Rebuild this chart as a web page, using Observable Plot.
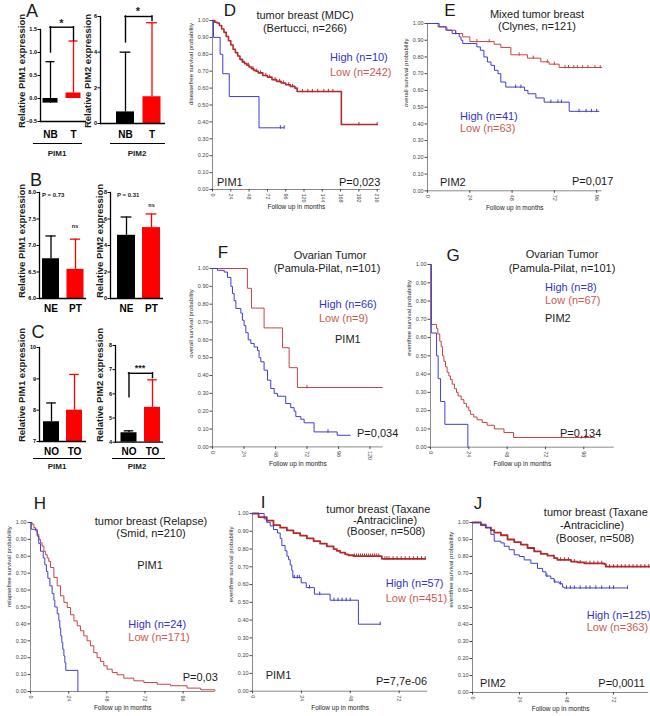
<!DOCTYPE html>
<html><head><meta charset="utf-8">
<script src="https://cdn.jsdelivr.net/npm/d3@7"></script>
<script src="https://cdn.jsdelivr.net/npm/@observablehq/plot@0.6"></script>
<style>
body{margin:0;background:#fff;}
#root{position:relative;width:650px;height:716px;overflow:hidden;background:#fff;font-family:"Liberation Sans",Arial,Helvetica,sans-serif;}
.t{position:absolute;white-space:nowrap;line-height:1;}
.u{position:absolute;height:1.4px;background:#000;}
</style></head><body><div id="root"></div>
<script>
// ---------------- DATA: bar panels ----------------
const catsA = ["NB", "T"], catsB = ["NE", "PT"], catsC = ["NO", "TO"];
const a1Mean = [-0.1, 0.12], a1Err = [0.8, 1.25];
const a2Mean = [0.65, 1.5],  a2Err = [4.0, 5.65];
const b1Mean = [6.75, 6.55], b1Err = [7.18, 7.12];
const b2Mean = [4.77, 5.35], b2Err = [6.15, 6.38];
const c1Mean = [7.63, 8.0],  c1Err = [8.23, 9.14];
const c2Mean = [4.39, 5.44], c2Err = [4.47, 6.58];
const a1Ticks = [-0.5, 0, 0.5, 1, 1.5], a2Ticks = [0, 2, 4, 6];
const b1Ticks = [6, 6.5, 7, 7.5, 8], b2Ticks = [0, 2, 4, 6, 8];
const c1Ticks = [7, 8, 9, 10], c2Ticks = [4, 5, 6, 7, 8];
const a1Bracket = [1.0, 1.55, 1.25], a2Bracket = [4.55, 6.0, 5.75], c2Bracket = [5.86, 6.85, 6.65];

// ---------------- DATA: Kaplan-Meier panels [month, survival] ----------------
const kmYTicks = [0, 0.1, 0.2, 0.3, 0.4, 0.5, 0.6, 0.7, 0.8, 0.9, 1.0];
const dHigh = [[0,1],[1.3,0.9],[10,0.8],[13.5,0.685],[22,0.55],[61,0.365],[94,0.365]];
const dLow = [[0,1],[3,0.99],[6,0.985],[9,0.97],[12,0.95],[15,0.93],[18,0.905],[21,0.88],[24,0.855],[27,0.83],[30,0.81],[33,0.79],[36,0.77],[39,0.755],[42,0.745],[45,0.735],[48,0.725],[51,0.715],[54,0.705],[57,0.7],[60,0.69],[66,0.675],[72,0.665],[78,0.65],[84,0.64],[90,0.63],[96,0.62],[102,0.61],[108,0.6],[111,0.58],[169,0.385],[216,0.385]];
const dHighCens = [89, 94];
const dLowCens = [40, 47, 53, 58, 63, 70, 75, 82, 88, 93, 100, 105, 118, 125, 131, 138, 146, 152, 158, 192, 216];
const eHigh = [[0,1],[6.6,0.98],[10.4,0.96],[14,0.94],[18,0.92],[19,0.9],[20,0.88],[28,0.86],[30,0.84],[32,0.8],[34,0.77],[36,0.75],[38,0.72],[40,0.7],[41.6,0.65],[44.4,0.62],[55,0.6],[57,0.58],[61.5,0.555],[66.2,0.53],[80.4,0.475],[97.4,0.475]];
const eLow = [[0,1],[6,0.98],[11,0.96],[16,0.94],[20,0.92],[24,0.892],[37.8,0.876],[41.6,0.857],[47.3,0.813],[56.7,0.793],[64.3,0.771],[69,0.757],[74.7,0.737],[99,0.737]];
const eHighCens = [16, 50, 53, 70, 74, 76, 86, 90, 93, 96];
const eLowCens = [28, 35, 52, 60, 68, 72, 78, 80, 83, 85, 88, 91, 95, 98];
const fHigh = [[0,1],[3.8,0.99],[8.9,0.98],[11.4,0.95],[14,0.9],[15.2,0.86],[16.5,0.82],[17.8,0.776],[21.6,0.75],[22.8,0.71],[24.1,0.68],[25.4,0.64],[27.2,0.6],[29.2,0.58],[31.7,0.56],[34.3,0.54],[35.5,0.5],[36.8,0.477],[39.3,0.43],[41.9,0.374],[44.4,0.327],[47,0.3],[49.5,0.284],[55.8,0.243],[59.6,0.22],[62.2,0.2],[63.5,0.17],[67.3,0.155],[69.8,0.135],[77.4,0.084],[95,0.065],[105,0.065]];
const fLow = [[0,1],[26.6,0.889],[29.7,0.778],[39.3,0.667],[53.3,0.556],[58.4,0.444],[64.7,0.333],[129.5,0.333]];
const fHighCens = [88];
const fLowCens = [72];
const gHigh = [[0,1],[0.5,0.625],[3.8,0.5],[4.8,0.375],[6.3,0.25],[9,0.125],[23.4,0]];
const gLow = [[0,1],[0.5,0.672],[3.8,0.65],[4.6,0.62],[5.8,0.58],[6.7,0.55],[7.5,0.5],[8.4,0.47],[9.4,0.44],[10.4,0.41],[11.5,0.39],[12.5,0.37],[13.6,0.345],[15,0.32],[16.3,0.3],[17.3,0.28],[19.2,0.26],[20.9,0.24],[22.5,0.22],[24,0.2],[25,0.18],[27.1,0.165],[29.2,0.15],[32.4,0.135],[35.5,0.12],[40,0.1],[46,0.08],[52,0.053],[103,0.053]];
const gHighCens = [];
const gLowCens = [97];
const hHigh = [[0,1],[0.5,0.96],[4.2,0.92],[5.2,0.875],[6.3,0.83],[8,0.79],[9,0.75],[10,0.71],[10.9,0.67],[12.2,0.625],[13.6,0.58],[14.7,0.54],[15.3,0.5],[16.8,0.46],[17.8,0.42],[18.4,0.375],[19,0.33],[19.7,0.29],[20.3,0.25],[21,0.21],[21.6,0.17],[22.2,0.125],[29.8,0]];
const hLow = [[0,1],[1,0.99],[2.1,0.97],[3.1,0.95],[4.2,0.93],[5.2,0.9],[6.3,0.88],[7.3,0.86],[8.4,0.83],[9.4,0.81],[10.5,0.79],[11.5,0.77],[12.6,0.734],[14.7,0.675],[16.8,0.625],[18.9,0.566],[21,0.527],[23.1,0.497],[25.2,0.454],[27.3,0.418],[29.4,0.389],[31.4,0.359],[33.5,0.329],[35.6,0.3],[37.7,0.27],[39.8,0.23],[41.9,0.2],[44,0.178],[46.1,0.152],[48.2,0.132],[51.4,0.112],[54.5,0.099],[58.7,0.079],[65,0.063],[71.3,0.053],[79.7,0.043],[88,0.034],[98.5,0.02],[107,0.01],[116,0.004]];
const hHighCens = [];
const hLowCens = [];
const iHigh = [[0,1],[5.7,0.97],[7,0.95],[8.7,0.93],[10.3,0.91],[12.3,0.89],[13.6,0.86],[14.4,0.82],[16,0.79],[16.9,0.76],[17.7,0.74],[18.5,0.71],[19.3,0.68],[19.8,0.64],[23.9,0.61],[26.4,0.583],[30.4,0.546],[38.1,0.512],[52,0.377],[62.7,0.377]];
const iLow = [[0,1],[3,0.98],[7,0.96],[10.3,0.935],[13.6,0.92],[16.9,0.905],[20.1,0.89],[23.4,0.875],[26.7,0.86],[30,0.845],[33.2,0.83],[36.5,0.815],[39.8,0.8],[41.4,0.79],[43,0.78],[45.5,0.77],[47.1,0.765],[49.6,0.76],[63.5,0.745],[84.8,0.745]];
const iHighCens = [20.5, 22, 23, 28, 33, 40, 42, 44, 46, 48, 62.7];
const iLowCens = [50, 51, 52, 53, 54, 55, 56, 57, 58, 59, 60, 61, 62, 65, 66, 67, 69, 71, 73, 75, 77, 79, 81, 83, 84.8];
const jHigh = [[0,1],[4.3,0.99],[6.8,0.97],[9.4,0.93],[11.1,0.89],[14.5,0.88],[16.2,0.86],[18.7,0.84],[21.3,0.81],[23.9,0.8],[26.4,0.78],[29.8,0.76],[33.2,0.73],[35.8,0.71],[37.5,0.685],[40,0.67],[41.7,0.65],[44.3,0.64],[46,0.62],[46.8,0.615],[79.2,0.615]];
const jLow = [[0,1],[4.3,0.985],[6.8,0.97],[9.4,0.955],[11.1,0.94],[14.5,0.925],[17.9,0.9],[21.3,0.885],[24.7,0.87],[28.1,0.85],[31.5,0.83],[34.9,0.815],[38.3,0.805],[41.7,0.79],[43.4,0.78],[50.3,0.77],[53.7,0.765],[57.1,0.76],[67.3,0.755],[68.1,0.74],[90.3,0.74]];
const jHighCens = [38, 42, 45, 48, 50, 52, 55, 58, 60, 63, 66, 70, 72, 79.2];
const jLowCens = [45, 47, 49, 52, 55, 58, 60, 62, 64, 66, 70, 72, 74, 76, 78, 80, 82, 84, 86, 88, 90];

// ---------------- DRAWING ----------------
const FONT = '"Liberation Sans", Arial, Helvetica, sans-serif';
const root = document.getElementById("root");
const BLUE = "#3d3dd0", RED = "#c84242", RED_DARK = "#b32a2a";
const TXT_BLUE = "#3333cc", TXT_RED = "#cc5a50";

function place(svg, left, top) {
  svg.style.position = "absolute";
  svg.style.left = left + "px";
  svg.style.top = top + "px";
  root.append(svg);
}
function label(txt, x, y, o = {}) {
  const d = document.createElement("div");
  d.className = "t";
  d.textContent = txt;
  d.style.left = x + "px";
  d.style.top = y + "px";
  d.style.fontSize = (o.size || 11) + "px";
  d.style.fontWeight = o.weight || "normal";
  d.style.color = o.color || "#1a1a1a";
  const ax = o.anchor === "start" ? "0" : o.anchor === "end" ? "-100%" : "-50%";
  d.style.transform = `translate(${ax},-50%)` + (o.rotate ? ` rotate(${o.rotate}deg)` : "");
  root.append(d);
}
function uline(x1, x2, y) {
  const d = document.createElement("div");
  d.className = "u";
  d.style.left = x1 + "px"; d.style.top = y + "px"; d.style.width = (x2 - x1) + "px";
  root.append(d);
}

function bars(cfg) {
  const {cats, mean, err, domain, ticks, fmt, axisX, yTop, yBot, c1, c2, bw, right, labOff, base, bracket} = cfg;
  const mL = 22, mR = 4, mT = 18, mB = 22;
  const left = axisX - mL, top = yTop - mT;
  const width = mL + (right - axisX) + mR, height = mT + (yBot - yTop) + mB;
  const cols = ["#000000", "#ff0000"];
  const rows = cats.map((c, i) => ({c, m: mean[i], e: err[i], col: cols[i]}));
  const marks = [
    Plot.barY(rows, {x: "c", y1: () => base, y2: "m", fill: "col"}),
    Plot.ruleX(rows, {x: "c", y1: "m", y2: "e", stroke: "col", strokeWidth: 1.3}),
    Plot.tickY(rows, {x: "c", y: "e", stroke: "col", strokeWidth: 1.3, insetLeft: bw * 0.2, insetRight: bw * 0.2}),
    Plot.ruleY([domain[0]], {stroke: "#000", strokeWidth: 1.3}),
    Plot.frame({anchor: "left", stroke: "#000", strokeWidth: 1.3}),
    Plot.axisY({ticks, tickFormat: d3.format(fmt), tickSize: 2.5, tickPadding: 1, fontSize: 5.5, fontWeight: "bold", label: null}),
    Plot.axisX({tickSize: 0, tickPadding: labOff - 5, fontSize: 10, fontWeight: "bold", label: null})
  ];
  if (bracket) {
    const legs = [{c: cats[0], lo: bracket[0], hi: bracket[1]}, {c: cats[1], lo: bracket[2], hi: bracket[1]}];
    marks.push(Plot.ruleX(legs, {x: "c", y1: "lo", y2: "hi", stroke: "#000", strokeWidth: 1.4, strokeLinecap: "square"}));
    marks.push(Plot.ruleY([bracket[1]], {y: d => d, x1: () => cats[0], x2: () => cats[1], insetLeft: bw / 2, insetRight: bw / 2, stroke: "#000", strokeWidth: 1.4, strokeLinecap: "square"}));
  }
  const svg = Plot.plot({
    width, height, marginLeft: mL, marginRight: mR, marginTop: mT, marginBottom: mB,
    style: {fontFamily: FONT, background: "transparent", overflow: "visible", color: "#000"},
    x: {type: "band", domain: cats, range: [c1 - bw / 2 - left, c2 + bw / 2 - left], paddingInner: 1 - bw / (c2 - c1), paddingOuter: 0, align: 0.5, round: false},
    y: {domain},
    color: {type: "identity"},
    marks
  });
  place(svg, left, top);
}

function stepAt(curve, m) {
  let v = curve[0][1];
  for (const p of curve) if (p[0] <= m) v = p[1];
  return v;
}

function km(cfg) {
  const {x0, y1, y0, ppm, maxM, xTicks, high, low, highC, lowC, ylab, redW, redCol} = cfg;
  const mL = 28, mR = 6, mT = 5, mB = 24;
  const width = mL + maxM * ppm + mR, height = mT + (y0 - y1) + mB;
  const hc = highC.map(m => [m, stepAt(high, m)]);
  const lc = lowC.map(m => [m, stepAt(low, m)]);
  const svg = Plot.plot({
    width, height, marginLeft: mL, marginRight: mR, marginTop: mT, marginBottom: mB,
    style: {fontFamily: FONT, background: "transparent", overflow: "visible", color: "#444"},
    x: {domain: [0, maxM]},
    y: {domain: [0, 1]},
    marks: [
      Plot.ruleX([0], {stroke: "#8a8a8a"}),
      Plot.ruleY([0], {stroke: "#8a8a8a"}),
      Plot.axisY({ticks: kmYTicks, tickFormat: d3.format(".2f"), tickSize: 2.5, tickPadding: 1.5, fontSize: 5.5, label: null}),
      Plot.axisX({ticks: xTicks, tickRotate: 90, tickSize: 2.5, tickPadding: 1.5, fontSize: 5.5, label: null}),
      Plot.text([ylab], {text: d => d, frameAnchor: "left", rotate: -90, dx: -21, fontSize: 6, fill: "#222"}),
      Plot.text(["Follow up in months"], {text: d => d, frameAnchor: "bottom", dy: 19, fontSize: 6.5, fill: "#222"}),
      Plot.line(low, {x: d => d[0], y: d => d[1], curve: "step-after", stroke: redCol || RED, strokeWidth: redW || 1}),
      Plot.ruleX(lc, {x: d => d[0], y1: d => d[1] - 0.008, y2: d => d[1] + 0.012, stroke: redCol || RED, strokeWidth: 1}),
      Plot.line(high, {x: d => d[0], y: d => d[1], curve: "step-after", stroke: BLUE, strokeWidth: 1}),
      Plot.ruleX(hc, {x: d => d[0], y1: d => d[1] - 0.008, y2: d => d[1] + 0.012, stroke: BLUE, strokeWidth: 1})
    ]
  });
  place(svg, x0 - mL, y1 - mT);
}

// ---- Bar panels ----
bars({cats: catsA, mean: a1Mean, err: a1Err, domain: [-0.5, 1.5], ticks: a1Ticks, fmt: ".1f", axisX: 40, yTop: 29, yBot: 121, c1: 50, c2: 73, bw: 15, right: 86, labOff: 14, base: 0, bracket: a1Bracket});
bars({cats: catsA, mean: a2Mean, err: a2Err, domain: [0, 6], ticks: a2Ticks, fmt: "d", axisX: 100, yTop: 16, yBot: 123, c1: 125, c2: 151.5, bw: 18, right: 165, labOff: 12, base: 0, bracket: a2Bracket});
bars({cats: catsB, mean: b1Mean, err: b1Err, domain: [6, 8], ticks: b1Ticks, fmt: ".1f", axisX: 39, yTop: 192, yBot: 298, c1: 50.5, c2: 75, bw: 17, right: 86, labOff: 11, base: 6});
bars({cats: catsB, mean: b2Mean, err: b2Err, domain: [0, 8], ticks: b2Ticks, fmt: "d", axisX: 110, yTop: 192, yBot: 298, c1: 126, c2: 151, bw: 18, right: 163, labOff: 11, base: 0});
bars({cats: catsC, mean: c1Mean, err: c1Err, domain: [7, 10], ticks: c1Ticks, fmt: "d", axisX: 39, yTop: 347, yBot: 441, c1: 51, c2: 74, bw: 16, right: 86, labOff: 11, base: 7});
bars({cats: catsC, mean: c2Mean, err: c2Err, domain: [4, 8], ticks: c2Ticks, fmt: "d", axisX: 115, yTop: 345, yBot: 441.7, c1: 128.5, c2: 152, bw: 16, right: 163, labOff: 11, base: 4, bracket: c2Bracket});

// ---- KM panels ----
km({x0: 211.7, y1: 20, y0: 189, ppm: 0.7625, maxM: 220, xTicks: [0,24,48,72,96,120,144,168,192,216], high: dHigh, low: dLow, highC: dHighCens, lowC: dLowCens, ylab: "diseasefree survival probability", redW: 1.6, redCol: RED_DARK});
km({x0: 426.7, y1: 22.7, y0: 190, ppm: 1.7625, maxM: 99, xTicks: [0,24,48,72,96], high: eHigh, low: eLow, highC: eHighCens, lowC: eLowCens, ylab: "overall survival probability"});
km({x0: 211.7, y1: 268.3, y0: 446.7, ppm: 1.3125, maxM: 130, xTicks: [0,24,48,72,96,120], high: fHigh, low: fLow, highC: fHighCens, lowC: fLowCens, ylab: "overall survival probability"});
km({x0: 430, y1: 264, y0: 446.7, ppm: 1.597, maxM: 115, xTicks: [0,24,48,72,96], high: gHigh, low: gLow, highC: gHighCens, lowC: gLowCens, ylab: "eventfree survival probability"});
km({x0: 30, y1: 521.7, y0: 690.7, ppm: 1.59, maxM: 116, xTicks: [0,24,48,72,96], high: hHigh, low: hLow, highC: hHighCens, lowC: hLowCens, ylab: "relapsefree survival probability"});
km({x0: 251.7, y1: 513.3, y0: 691, ppm: 2.037, maxM: 86, xTicks: [0,24,48,72], high: iHigh, low: iLow, highC: iHighCens, lowC: iLowCens, ylab: "eventfree survival probability", redW: 1.8, redCol: RED_DARK});
km({x0: 471.7, y1: 521.7, y0: 691.7, ppm: 1.958, maxM: 90, xTicks: [0,24,48,72], high: jHigh, low: jLow, highC: jHighCens, lowC: jLowCens, ylab: "eventfree survival probability", redW: 1.8, redCol: RED_DARK});

// ---- Bar panel annotations ----
label("A", 32, 11, {size: 18});
label("B", 36, 180, {size: 18});
label("C", 38, 332, {size: 18});
label("Relative PIM1 expression", 22, 71, {size: 9.5, weight: "bold", rotate: -90});
label("Relative PIM2 expression", 88, 71, {size: 9.5, weight: "bold", rotate: -90});
label("Relative PIM1 expression", 22, 241, {size: 9.5, weight: "bold", rotate: -90});
label("Relative PIM2 expression", 100, 241, {size: 9.5, weight: "bold", rotate: -90});
label("Relative PIM1 expression", 22, 385, {size: 9.5, weight: "bold", rotate: -90});
label("Relative PIM2 expression", 100, 385, {size: 9.5, weight: "bold", rotate: -90});
label("*", 61.5, 23, {size: 11, weight: "bold"});
label("*", 138, 11, {size: 11, weight: "bold"});
label("***", 140, 368, {size: 9, weight: "bold"});
label("P = 0.73", 42, 195, {size: 6, weight: "bold", anchor: "start"});
label("P = 0.31", 117, 195, {size: 6, weight: "bold", anchor: "start"});
label("ns", 75, 227, {size: 5.5, weight: "bold"});
label("ns", 151.5, 206, {size: 5.5, weight: "bold"});
uline(33, 82, 142.5); label("PIM1", 57, 154, {size: 8, weight: "bold"});
uline(110, 165, 142.5); label("PIM2", 137, 154, {size: 8, weight: "bold"});
uline(33, 82, 457.5); label("PIM1", 57, 467, {size: 8, weight: "bold"});
uline(112, 165, 457.5); label("PIM2", 137, 467, {size: 8, weight: "bold"});

// ---- KM annotations ----
label("D", 230, 10, {size: 17});
label("tumor breast (MDC)", 305, 15);
label("(Bertucci, n=266)", 305, 27.5);
label("High (n=10)", 330, 57, {anchor: "start", color: TXT_BLUE});
label("Low (n=242)", 330, 72, {anchor: "start", color: TXT_RED});
label("PIM1", 217, 182, {anchor: "start"});
label("P=0,023", 339, 182, {anchor: "start"});

label("E", 450, 10, {size: 17});
label("Mixed tumor breast", 537, 13.5);
label("(Clynes, n=121)", 537, 26);
label("High (n=41)", 460, 116, {anchor: "start", color: TXT_BLUE});
label("Low (n=63)", 460, 128, {anchor: "start", color: TXT_RED});
label("PIM2", 440, 182, {anchor: "start"});
label("P=0,017", 572, 181, {anchor: "start"});

label("F", 223, 252, {size: 17});
label("Ovarian Tumor", 330, 255);
label("(Pamula-Pilat, n=101)", 327, 268);
label("High (n=66)", 319, 304, {anchor: "start", color: TXT_BLUE});
label("Low (n=9)", 319, 318, {anchor: "start", color: TXT_RED});
label("PIM1", 335, 339, {anchor: "start"});
label("P=0,034", 357, 433, {anchor: "start"});

label("G", 453, 255, {size: 17});
label("Ovarian Tumor", 562, 254);
label("(Pamula-Pilat, n=101)", 562, 268);
label("High (n=8)", 545, 287, {anchor: "start", color: TXT_BLUE});
label("Low (n=67)", 545, 300, {anchor: "start", color: TXT_RED});
label("PIM2", 545, 318, {anchor: "start"});
label("P=0,134", 560, 433, {anchor: "start"});

label("H", 40, 503, {size: 17});
label("tumor breast (Relapse)", 151, 520.7);
label("(Smid, n=210)", 151, 533.3);
label("PIM1", 150, 565);
label("High (n=24)", 128.3, 624, {anchor: "start", color: TXT_BLUE});
label("Low (n=171)", 128.3, 636.7, {anchor: "start", color: TXT_RED});
label("P=0,03", 182.7, 676.7, {anchor: "start"});

label("I", 263, 502, {size: 17});
label("tumor breast (Taxane", 378.3, 509.3);
label("-Antracicline)", 385, 520);
label("(Booser, n=508)", 386, 531);
label("High (n=57)", 385.7, 583.3, {anchor: "start", color: TXT_BLUE});
label("Low (n=451)", 385.7, 597.7, {anchor: "start", color: TXT_RED});
label("PIM1", 265.7, 675, {anchor: "start"});
label("P=7,7e-06", 376, 680.7, {anchor: "start"});

label("J", 478, 503, {size: 17});
label("tumor breast (Taxane", 595.8, 511.7);
label("-Antracicline)", 592, 525);
label("(Booser, n=508)", 595, 538.3);
label("High (n=125)", 586.7, 615, {anchor: "start", color: TXT_BLUE});
label("Low (n=363)", 586.7, 626.7, {anchor: "start", color: TXT_RED});
label("PIM2", 480, 682.7, {anchor: "start"});
label("P=0,0011", 598.3, 682.7, {anchor: "start"});
</script></body></html>
